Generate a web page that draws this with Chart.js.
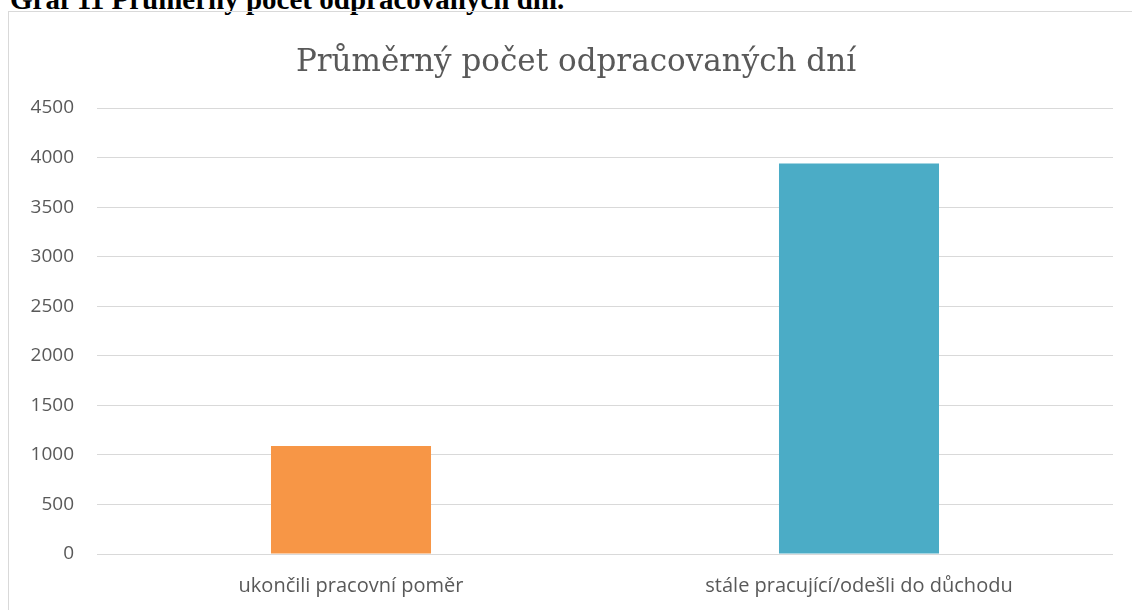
<!DOCTYPE html>
<html>
<head>
<meta charset="utf-8">
<script src="https://cdn.jsdelivr.net/npm/chart.js@4"></script>
<style>
  body { margin: 0; background: #fff; overflow: hidden; }
  #caption {
    position: absolute; left: 10px; top: -15px; white-space: nowrap;
    font-family: "Liberation Serif", serif; font-weight: bold; font-size: 29px; line-height: 1;
    color: #000;
  }
  #frame {
    position: absolute; left: 8px; top: 11px; width: 1140px; height: 620px;
    border: 1px solid #d9d9d9;
  }
  #wrap { position: absolute; left: 9px; top: 12px; width: 1123px; height: 598px; }
  #title {
    position: absolute; left: 0; top: 42px; width: 1152px; text-align: center;
    font-family: "DejaVu Serif", serif; font-size: 31px; line-height: 37px; color: #595959;
    white-space: nowrap;
  }
</style>
</head>
<body>
<div id="caption">Graf 11 Průměrný počet odpracovaných dní.</div>
<div id="frame"></div>
<div id="wrap"><canvas id="chart"></canvas></div>
<div id="title"></div>
<script>
// data
const categories = ["ukončili pracovní poměr", "stále pracující/odešli do důchodu"];
const values = [1090, 3940];
const barColors = ["#F79646", "#4BACC6"];
const titleText = "Průměrný počet odpracovaných dní";

document.getElementById("title").textContent = titleText;

const ctx = document.getElementById("chart").getContext("2d");
const chart = new Chart(ctx, {
    type: "bar",
    data: {
        labels: categories,
        datasets: [
            {
                label: titleText,
                data: values,
                backgroundColor: barColors,
                borderWidth: 0,
                categoryPercentage: 1,
                barPercentage: 0.315,
            },
        ],
    },
    options: {
        responsive: true,
        maintainAspectRatio: false,
        animation: false,
        layout: { padding: { left: 0, right: 19, top: 96, bottom: 0 } },
        plugins: {
            legend: { display: false },
            tooltip: { enabled: false },
            title: { display: false },
        },
        scales: {
            x: {
                grid: { display: false },
                border: { display: false },
                ticks: {
                    color: "#595959",
                    padding: 12,
                    font: { family: "Open Sans", size: 20 },
                },
                afterFit: (s) => { s.height = 56; },
            },
            y: {
                min: 0,
                max: 4500,
                border: { display: false },
                grid: { color: "#d9d9d9", lineWidth: 1, drawTicks: false },
                ticks: {
                    stepSize: 500,
                    color: "#595959",
                    padding: 23,
                    font: { family: "Open Sans", size: 19 },
                    callback: (v) => String(v),
                },
                afterFit: (s) => { s.width = 88; },
            },
        },
    },
});
</script>
</body>
</html>
